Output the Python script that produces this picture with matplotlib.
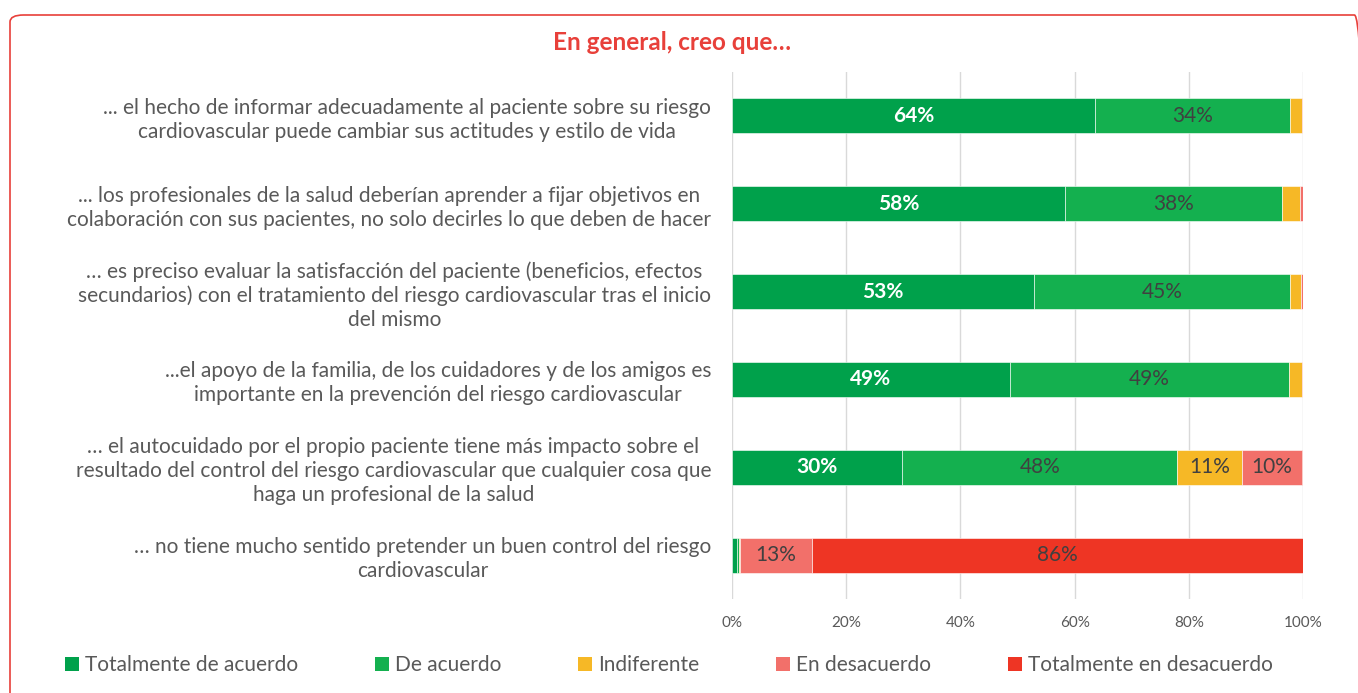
import matplotlib

matplotlib.use("Agg")
import matplotlib.pyplot as plt  # noqa: E402
import numpy as np  # noqa: E402
from matplotlib.patches import FancyBboxPatch, Patch  # noqa: E402

plt.rcParams["font.family"] = ["Lato", "DejaVu Sans"]

QUESTIONS = [
    "... el hecho de informar adecuadamente al paciente sobre su riesgo\ncardiovascular puede cambiar sus actitudes y estilo de vida",
    "... los profesionales de la salud deberían aprender a fijar objetivos en\ncolaboración con sus pacientes, no solo decirles lo que deben de hacer",
    "… es preciso evaluar la satisfacción del paciente (beneficios, efectos\nsecundarios) con el tratamiento del riesgo cardiovascular tras el inicio\ndel mismo",
    "...el apoyo de la familia, de los cuidadores y de los amigos es\nimportante en la prevención del riesgo cardiovascular",
    "… el autocuidado por el propio paciente tiene más impacto sobre el\nresultado del control del riesgo cardiovascular que cualquier cosa que\nhaga un profesional de la salud",
    "… no tiene mucho sentido pretender un buen control del riesgo\ncardiovascular",
]
CATEGORIES = ["Totalmente de acuerdo", "De acuerdo", "Indiferente",
              "En desacuerdo", "Totalmente en desacuerdo"]
TOT_ACUERDO = [63.6, 58.3, 52.9, 48.6, 29.8, 0.9]
ACUERDO = [34.2, 38.0, 44.8, 48.9, 48.2, 0.3]
INDIFERENTE = [2.0, 3.2, 2.0, 2.3, 11.4, 0.2]
DESACUERDO = [0.2, 0.5, 0.3, 0.2, 10.4, 12.6]
TOT_DESACUERDO = [0.0, 0.0, 0.0, 0.0, 0.2, 86.0]

COLORS = ["#00A14B", "#14B04F", "#F6B826", "#F2706A", "#EE3524"]
LABEL_COLORS = ["white", "#404040", "#404040", "#404040", "#404040"]
RED = "#E8403A"

series = [TOT_ACUERDO, ACUERDO, INDIFERENTE, DESACUERDO, TOT_DESACUERDO]

fig = plt.figure(figsize=(13.58, 6.93), dpi=100)
ax = fig.add_axes([732 / 1358, 1 - 599 / 693, 571 / 1358, 527 / 693])

y = np.arange(len(QUESTIONS))
left = np.zeros(len(QUESTIONS))
for i, vals in enumerate(series):
    vals = np.asarray(vals)
    ax.barh(y, vals, left=left, height=0.4, color=COLORS[i],
            edgecolor="white", linewidth=0.4, zorder=3)
    for j, v in enumerate(vals):
        if v >= 5:
            ax.text(left[j] + v / 2, y[j], f"{round(v):d}%", ha="center", va="center",
                    fontsize=15, color=LABEL_COLORS[i],
                    fontweight="bold" if i == 0 else "normal", zorder=4)
    left += vals

ax.set_xlim(0, 100)
ax.set_ylim(len(QUESTIONS) - 0.5, -0.5)
ax.set_xticks(np.arange(0, 101, 20))
ax.set_xticklabels([f"{t}%" for t in range(0, 101, 20)], fontsize=11, color="#595959")
ax.set_yticks(y)
ax.set_yticklabels(QUESTIONS, fontsize=15, color="#595959",
                   multialignment="center", linespacing=1.25)
ax.tick_params(axis="both", length=0)
ax.tick_params(axis="y", pad=15)
ax.tick_params(axis="x", pad=12)
for s in ax.spines.values():
    s.set_visible(False)
ax.grid(axis="x", color="#D9D9D9", linewidth=1, zorder=0)

fig.text(672 / 1358, 1 - 42 / 693, "En general, creo que…", ha="center", va="center",
         fontsize=17.5, fontweight="bold", color=RED)

handles = [Patch(facecolor=c, edgecolor="none") for c in COLORS]
fig.legend(handles, CATEGORIES, loc="center left", bbox_to_anchor=(65 / 1358, 1 - 665 / 693),
           ncol=5, frameon=False, fontsize=15, handlelength=0.65, handleheight=0.65,
           handletextpad=0.3, columnspacing=3.7, labelcolor="#595959",
           borderpad=0, borderaxespad=0)

border = FancyBboxPatch((10 / 1358, -0.05), 1.0, 1 - 15 / 693 + 0.05,
                        boxstyle="round,pad=0,rounding_size=0.01",
                        transform=fig.transFigure, fill=False, edgecolor=RED,
                        linewidth=1.2, clip_on=False)
fig.patches.append(border)

fig.savefig("out.png", dpi=100)
plt.close(fig)
